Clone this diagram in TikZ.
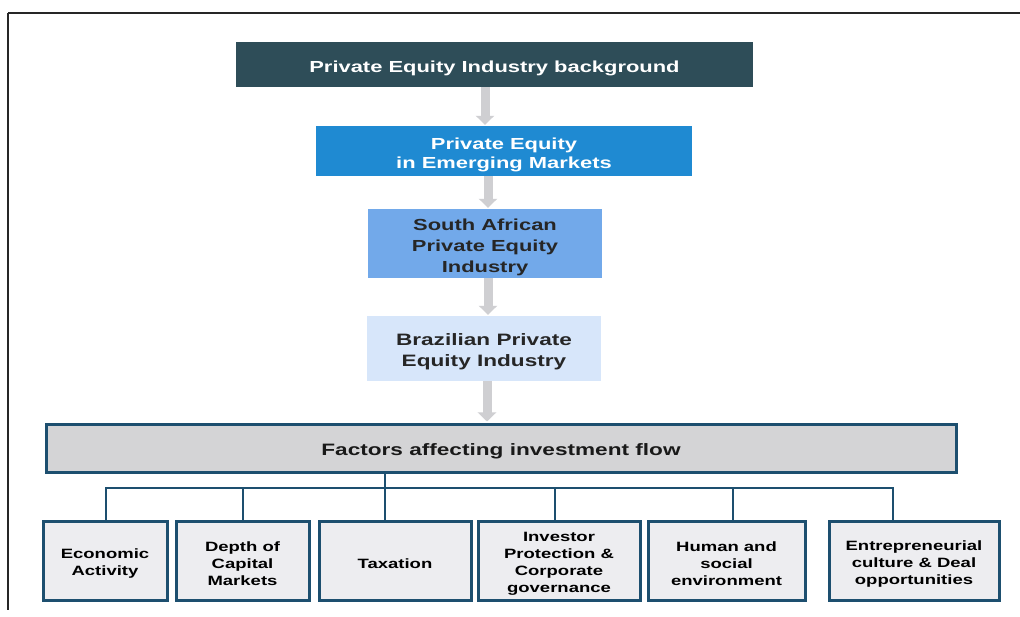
\documentclass[tikz,border=0pt]{standalone}
\usepackage{fontspec}
\setmainfont[FakeStretch=1.37]{Liberation Sans}
\usetikzlibrary{arrows.meta}
\definecolor{topbox}{HTML}{2E4D58}
\definecolor{pebox}{HTML}{1F8AD2}
\definecolor{sabox}{HTML}{72A9EA}
\definecolor{brbox}{HTML}{D7E6FA}
\definecolor{facbox}{HTML}{D4D4D6}
\definecolor{edge}{HTML}{1D4F6F}
\definecolor{leaf}{HTML}{EDEDF0}
\definecolor{arr}{HTML}{CFCFD2}
\tikzset{
  box/.style={rectangle, inner sep=0pt},
  txt/.style 2 args={label={[inner sep=0pt, align=center, yshift=-3.5pt, font=\bfseries#1]center:{#2}}},
  leafbox/.style={box, draw=edge, line width=3pt, fill=leaf, minimum height=79pt},
  flow/.style={arr, line width=9pt, -{Triangle[width=18pt,length=9pt]}, shorten >=1pt},
  link/.style={edge, line width=1.2pt}
}
\newcommand{\lf}{\fontsize{13.5}{17}\selectfont}
\begin{document}
\begin{tikzpicture}[x=1pt,y=-1pt]
\useasboundingbox (0,0) rectangle (1020,617);
\fill[white] (0,0) rectangle (1020,617);
% scan frame
\draw[black!85, line width=2pt] (8,13) -- (1020,13);
\draw[black!85, line width=2pt] (8,13) -- (8,610);
% main chain
\node[box, fill=topbox, minimum width=517pt, minimum height=45pt, txt={\fontsize{16}{19}\selectfont\color{white}}{Private Equity Industry background}] (bg) at (494.5,64.5) {};
\node[box, fill=pebox, minimum width=376pt, minimum height=50pt, txt={\fontsize{16}{19}\selectfont\color{white}}{Private Equity\\in Emerging Markets}] (pe) at (504,151) {};
\node[box, fill=sabox, minimum width=234pt, minimum height=69pt, txt={\fontsize{16}{21}\selectfont\color{black!85}}{South African\\Private Equity\\Industry}] (sa) at (485,243.5) {};
\node[box, fill=brbox, minimum width=234pt, minimum height=65pt, txt={\fontsize{16.5}{21}\selectfont\color{black!85}}{Brazilian Private\\Equity Industry}] (br) at (484,348.5) {};
\node[box, draw=edge, line width=3pt, fill=facbox, minimum width=910pt, minimum height=48pt, txt={\fontsize{16.5}{20}\selectfont\color{black!90}}{Factors affecting investment flow}] (fac) at (501,448) {};
% flow arrows
\draw[flow] (bg.south -| 485,0) -- (pe.north -| 485,0);
\draw[flow] (pe.south -| 488,0) -- (sa.north -| 488,0);
\draw[flow] (sa.south -| 488,0) -- (br.north -| 488,0);
\draw[flow] (br.south -| 487,0) -- (fac.north -| 487,0);
% leaves
\node[leafbox, minimum width=124pt, txt={\lf}{Economic\\Activity}] (l1) at (105,560.5) {};
\node[leafbox, minimum width=133pt, txt={\lf}{Depth of\\Capital\\Markets}] (l2) at (242.5,560.5) {};
\node[leafbox, minimum width=152pt, txt={\lf}{Taxation}] (l3) at (395,560.5) {};
\node[leafbox, minimum width=162pt, txt={\lf}{Investor\\Protection \&\\Corporate\\governance}] (l4) at (559,560.5) {};
\node[leafbox, minimum width=157pt, txt={\lf}{Human and\\social\\environment}] (l5) at (726.5,560.5) {};
\node[leafbox, minimum width=170pt, txt={\lf}{Entrepreneurial\\culture \& Deal\\opportunities}] (l6) at (914,560.5) {};
% tree connectors
\coordinate (bus) at (385,488);
\draw[link] (fac.south -| bus) -- (bus);
\draw[link] (l1.north -| 106,0) |- (bus);
\draw[link] (l6.north -| 893,0) |- (bus);
\draw[link] (l2.north -| 243,0) -- (243,488);
\draw[link] (l3.north -| 385,0) -- (bus);
\draw[link] (l4.north -| 555,0) -- (555,488);
\draw[link] (l5.north -| 733,0) -- (733,488);
\end{tikzpicture}
\end{document}
